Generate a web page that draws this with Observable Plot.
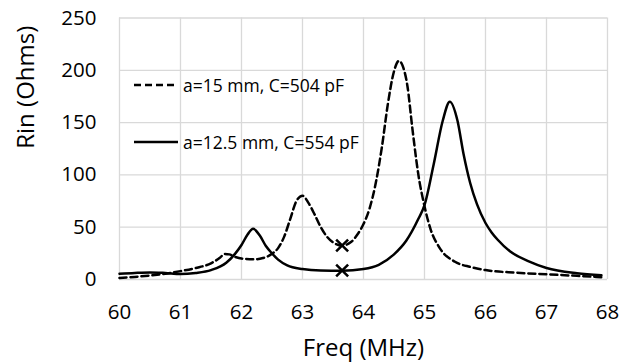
<!DOCTYPE html>
<html>
<head>
<meta charset="utf-8">
<script src="https://cdn.jsdelivr.net/npm/d3@7"></script>
<script src="https://cdn.jsdelivr.net/npm/@observablehq/plot@0.6"></script>
<style>
  html, body { margin: 0; padding: 0; background: #fff; }
  #wrap { position: relative; width: 619px; height: 363px; font-family: "Open Sans", Lato, sans-serif; }
  #legend { position: absolute; left: 134px; top: 70px; font-size: 17.5px; color: #000; }
  .row { display: flex; align-items: center; height: 30px; }
  .row svg { display: block; margin-right: 5px; }
  .row + .row { margin-top: 26.5px; }
</style>
</head>
<body>
<div id="wrap"></div>
<script>
// Series: a=15 mm, C=504 pF (dashed)
const freqA = [60.0, 60.25, 60.5, 60.75, 61.0, 61.25, 61.5, 61.65, 61.72, 61.8, 61.9, 62.0, 62.2, 62.35, 62.5, 62.6, 62.7, 62.8, 62.9, 63.0, 63.1, 63.2, 63.3, 63.4, 63.5, 63.65, 63.8, 63.9, 64.0, 64.1, 64.2, 64.3, 64.4, 64.5, 64.58, 64.65, 64.72, 64.8, 64.9, 65.0, 65.1, 65.25, 65.5, 65.75, 66.0, 66.5, 67.0, 67.5, 67.9];
const rinA  = [1.5, 2.5, 3.8, 5.5, 8, 11, 15.5, 21, 24.5, 24, 21.5, 20, 19.3, 20.5, 24.5, 30, 41, 58, 75, 80, 73, 62, 50, 41, 35.5, 32.5, 36, 43, 53, 68, 92, 126, 168, 199, 209, 203, 185, 145, 100, 70, 48, 30, 17, 12, 9, 6.5, 5, 3.5, 2.2];

// Series: a=12.5 mm, C=554 pF (solid)
const freqB = [60.0, 60.25, 60.5, 60.75, 61.0, 61.25, 61.5, 61.75, 61.9, 62.0, 62.1, 62.19, 62.3, 62.4, 62.5, 62.6, 62.75, 63.0, 63.3, 63.65, 64.0, 64.25, 64.5, 64.7, 64.9, 65.0, 65.15, 65.3, 65.415, 65.54, 65.64, 65.75, 65.86, 66.0, 66.1, 66.2, 66.4, 66.7, 67.0, 67.5, 67.9];
const rinB  = [5.5, 6.3, 6.8, 6.2, 5.2, 6.3, 9, 16, 25, 33, 43, 48.5, 42, 32, 25, 19, 13.5, 10, 8.6, 8.4, 10, 14, 24, 37, 58, 71, 110, 152, 170, 152, 120, 92, 72, 54, 45, 38, 27, 17.5, 11, 6, 4];

// Marked points
const markFreq = [63.65, 63.65];
const markRin  = [32.5, 8.6];

// Axes ticks and labels
const xTicks = [60, 61, 62, 63, 64, 65, 66, 67, 68];
const yTicks = [0, 50, 100, 150, 200, 250];
const xLabel = "Freq (MHz)";
const yLabel = "Rin (Ohms)";
const seriesNames = ["a=15 mm, C=504 pF", "a=12.5 mm, C=554 pF"];

const dataA = freqA.map((f, i) => ({f, r: rinA[i]}));
const dataB = freqB.map((f, i) => ({f, r: rinB[i]}));
const marks = markFreq.map((f, i) => ({f, r: markRin[i]}));

const gridStyle = {stroke: "#d9d9d9", strokeOpacity: 1, strokeWidth: 1.3};

const chart = Plot.plot({
  width: 619,
  height: 363,
  marginLeft: 119,
  marginRight: 12,
  marginTop: 17.5,
  marginBottom: 84,
  style: {fontFamily: "'Open Sans', Lato, sans-serif", color: "#000", background: "#fff"},
  x: {domain: [60, 68]},
  y: {domain: [0, 250]},
  marks: [
    Plot.gridX(xTicks, gridStyle),
    Plot.gridY(yTicks, gridStyle),
    Plot.axisX(xTicks, {tickSize: 0, tickPadding: 25, fontSize: 20.5, label: null, tickFormat: d => String(d)}),
    Plot.axisY(yTicks, {tickSize: 0, tickPadding: 23, fontSize: 20.5, label: null, tickFormat: d => String(d)}),
    Plot.line(dataA, {x: "f", y: "r", curve: "monotone-x", stroke: "#000", strokeWidth: 2.5, strokeDasharray: "7,4"}),
    Plot.line(dataB, {x: "f", y: "r", curve: "monotone-x", stroke: "#000", strokeWidth: 2.5}),
    Plot.dot(marks, {x: "f", y: "r", symbol: "times", r: 5.5, stroke: "#000", strokeWidth: 2.5}),
    Plot.text([xLabel], {text: d => d, frameAnchor: "bottom", dy: 76, lineAnchor: "bottom", fontSize: 24, fill: "#000"}),
    Plot.text([yLabel], {text: d => d, frameAnchor: "left", dx: -86, rotate: -90, lineAnchor: "bottom", fontSize: 24, fill: "#000"})
  ]
});

const wrap = document.getElementById("wrap");
wrap.appendChild(chart);

const legend = document.createElement("div");
legend.id = "legend";
const dashes = ["7,4", null];
seriesNames.forEach((name, i) => {
  const row = document.createElement("div");
  row.className = "row";
  const s = d3.create("svg").attr("width", 44).attr("height", 6);
  s.append("line").attr("x1", 0).attr("x2", 44).attr("y1", 3).attr("y2", 3)
    .attr("stroke", "#000").attr("stroke-width", 2.5)
    .attr("stroke-dasharray", dashes[i]);
  row.appendChild(s.node());
  const t = document.createElement("span");
  t.textContent = name;
  row.appendChild(t);
  legend.appendChild(row);
});
wrap.appendChild(legend);
</script>
</body>
</html>
